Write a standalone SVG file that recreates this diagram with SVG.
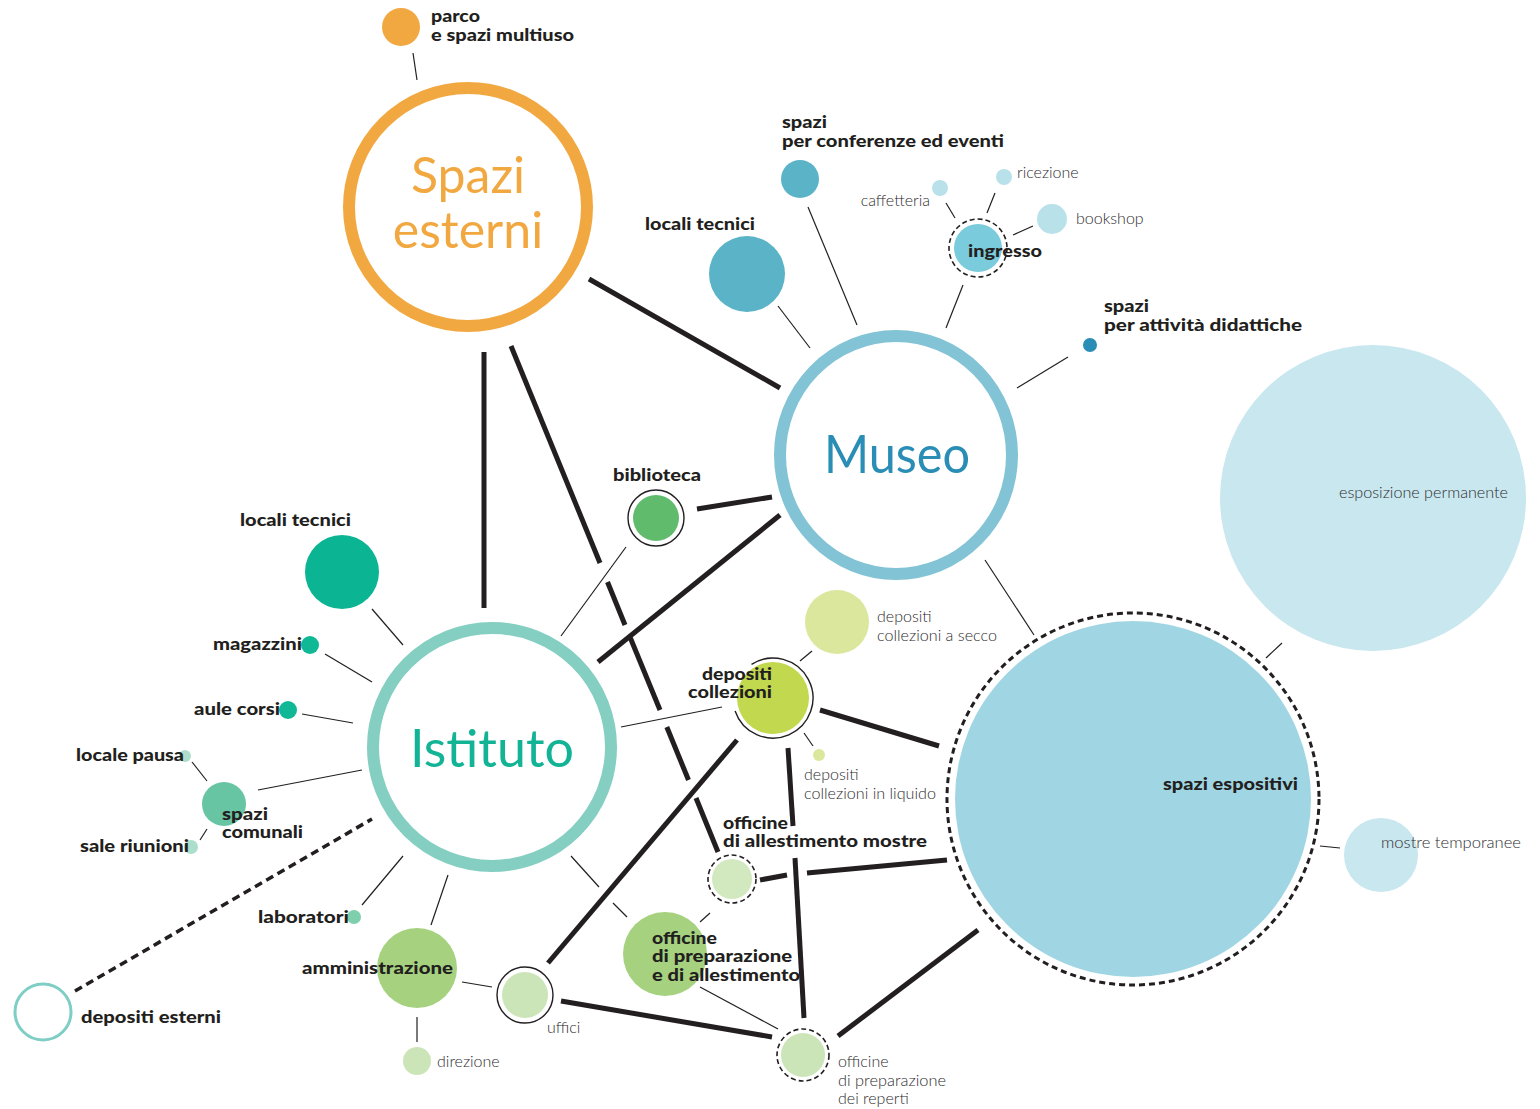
<svg xmlns="http://www.w3.org/2000/svg" width="1540" height="1109" viewBox="0 0 1540 1109">
<style>
.bg{fill:#fff}
.thick{stroke:#231f20;stroke-width:5;fill:none}
.thin{stroke:#231f20;stroke-width:1.2;fill:none}
.dring{fill:none;stroke:#231f20;stroke-width:1.6;stroke-dasharray:5 3}
.bring{fill:none;stroke:#231f20;stroke-width:1.4}
.b{font-family:Lato,"Liberation Sans",sans-serif;font-weight:900;font-size:16.5px;fill:#231f20}
.l{font-family:Lato,"Liberation Sans",sans-serif;font-weight:300;font-size:16px;fill:#2e2d2f}
.big{font-family:Lato,"Liberation Sans",sans-serif;font-weight:400;text-anchor:middle}
</style>
<rect class="bg" x="0" y="0" width="1540" height="1109"/>
<g id="connectors">
  <line class="thick" x1="589" y1="279" x2="780" y2="388"/>
  <line class="thick" x1="484" y1="352" x2="484" y2="608"/>
  <line class="thick" x1="511" y1="346" x2="600" y2="563"/>
  <line class="thick" x1="607.5" y1="582" x2="625" y2="625"/>
  <line class="thick" x1="630.4" y1="638" x2="660" y2="710"/>
  <line class="thick" x1="666.8" y1="727" x2="688.5" y2="780"/>
  <line class="thick" x1="696" y1="798" x2="718" y2="852"/>
  <line class="thick" x1="697" y1="509" x2="772" y2="497"/>
  <line class="thick" x1="598" y1="662" x2="780" y2="515"/>
  <line class="thick" x1="820" y1="710" x2="939" y2="746"/>
  <line class="thick" x1="737" y1="740" x2="548" y2="963"/>
  <line class="thick" x1="788" y1="748" x2="793" y2="826"/>
  <line class="thick" x1="795" y1="858" x2="804" y2="1018"/>
  <line class="thick" x1="760" y1="880" x2="787" y2="875"/>
  <line class="thick" x1="807" y1="873" x2="947" y2="860"/>
  <line class="thick" x1="561" y1="1001" x2="772" y2="1037"/>
  <line class="thick" x1="838" y1="1036" x2="978" y2="930"/>
  <line class="thin" x1="413" y1="53" x2="417" y2="80"/>
  <line class="thin" x1="778" y1="306" x2="810" y2="348"/>
  <line class="thin" x1="808" y1="207" x2="857" y2="325"/>
  <line class="thin" x1="963" y1="285" x2="946" y2="328"/>
  <line class="thin" x1="946" y1="203" x2="955" y2="218"/>
  <line class="thin" x1="995" y1="193" x2="987" y2="213"/>
  <line class="thin" x1="1033" y1="226" x2="1013" y2="235"/>
  <line class="thin" x1="1017" y1="388" x2="1068" y2="357"/>
  <line class="thin" x1="985" y1="560" x2="1034" y2="635"/>
  <line class="thin" x1="1266" y1="658" x2="1282" y2="643"/>
  <line class="thin" x1="1320" y1="846" x2="1340" y2="848"/>
  <line class="thin" x1="626" y1="547" x2="561" y2="636"/>
  <line class="thin" x1="372" y1="609" x2="403" y2="645"/>
  <line class="thin" x1="325" y1="654" x2="372" y2="682"/>
  <line class="thin" x1="302" y1="714" x2="353" y2="723"/>
  <line class="thin" x1="258" y1="790" x2="362" y2="770"/>
  <line class="thin" x1="192" y1="762" x2="207" y2="781"/>
  <line class="thin" x1="200" y1="840" x2="207" y2="829"/>
  <line class="thin" x1="362" y1="905" x2="403" y2="856"/>
  <line class="thin" x1="431" y1="925" x2="448" y2="875"/>
  <line class="thin" x1="417" y1="1017" x2="417" y2="1042"/>
  <line class="thin" x1="462" y1="982" x2="492" y2="987"/>
  <line class="thin" x1="571" y1="856" x2="599" y2="887"/>
  <line class="thin" x1="613" y1="903" x2="627" y2="917"/>
  <line class="thin" x1="700" y1="922" x2="710" y2="913"/>
  <line class="thin" x1="700" y1="987" x2="778" y2="1029"/>
  <line class="thin" x1="621" y1="727" x2="722" y2="707"/>
  <line class="thin" x1="800" y1="661" x2="812" y2="651"/>
  <line class="thin" x1="804" y1="733" x2="813" y2="746"/>
  <line x1="75" y1="991" x2="372" y2="819" stroke="#231f20" stroke-width="3.5" stroke-dasharray="8 5"/>
</g>
<g id="spazi-esterni">
  <circle cx="468" cy="207" r="119" fill="none" stroke="#f2a840" stroke-width="12"/>
  <text class="big" x="468" y="193" font-size="50" fill="#f2a840">Spazi</text>
  <text class="big" x="468" y="248" font-size="50" fill="#f2a840">esterni</text>
</g>
<g id="parco">
  <circle cx="401" cy="27" r="19" fill="#f2a840"/>
  <text class="b" x="431" y="22" textLength="49" lengthAdjust="spacingAndGlyphs">parco</text>
  <text class="b" x="431" y="41" textLength="143" lengthAdjust="spacingAndGlyphs">e spazi multiuso</text>
</g>
<g id="museo">
  <ellipse cx="896" cy="455" rx="116" ry="119" fill="#fff" stroke="#82c3d5" stroke-width="12"/>
  <text class="big" x="897" y="473" font-size="53" fill="#2a8db5" textLength="146" lengthAdjust="spacingAndGlyphs">Museo</text>
</g>
<g id="museo-locali-tecnici">
  <circle cx="747" cy="274" r="38" fill="#5ab3c7"/>
  <text class="b" x="645" y="230" textLength="110" lengthAdjust="spacingAndGlyphs">locali tecnici</text>
</g>
<g id="conferenze">
  <circle cx="800" cy="179" r="19" fill="#5ab3c7"/>
  <text class="b" x="782" y="128" textLength="45" lengthAdjust="spacingAndGlyphs">spazi</text>
  <text class="b" x="782" y="147" textLength="222" lengthAdjust="spacingAndGlyphs">per conferenze ed eventi</text>
</g>
<g id="ingresso">
  <circle cx="978" cy="248" r="24" fill="#7acbdc"/>
  <circle class="dring" cx="978" cy="248" r="29"/>
  <text class="b" x="968" y="257" textLength="74" lengthAdjust="spacingAndGlyphs">ingresso</text>
</g>
<g id="caffetteria">
  <circle cx="940" cy="188" r="8" fill="#b9e1ea"/>
  <text class="l" x="930" y="206" text-anchor="end">caffetteria</text>
</g>
<g id="ricezione">
  <circle cx="1004" cy="177" r="8" fill="#b9e1ea"/>
  <text class="l" x="1017" y="178">ricezione</text>
</g>
<g id="bookshop">
  <circle cx="1052" cy="219" r="15" fill="#b9e1ea"/>
  <text class="l" x="1076" y="224">bookshop</text>
</g>
<g id="didattiche">
  <circle cx="1090" cy="345" r="7" fill="#2a8db5"/>
  <text class="b" x="1104" y="312" textLength="45" lengthAdjust="spacingAndGlyphs">spazi</text>
  <text class="b" x="1104" y="331" textLength="198" lengthAdjust="spacingAndGlyphs">per attività didattiche</text>
</g>
<g id="esposizione-permanente">
  <circle cx="1373" cy="498" r="153" fill="#c8e7ef"/>
  <text class="l" x="1339" y="498" textLength="169" lengthAdjust="spacingAndGlyphs">esposizione permanente</text>
</g>
<g id="spazi-espositivi">
  <circle cx="1133" cy="799" r="178" fill="#a0d6e3"/>
  <circle cx="1133" cy="799" r="186" fill="none" stroke="#231f20" stroke-width="3" stroke-dasharray="6 4"/>
  <text class="b" x="1163" y="790" textLength="135" lengthAdjust="spacingAndGlyphs">spazi espositivi</text>
</g>
<g id="mostre-temporanee">
  <ellipse cx="1381" cy="855" rx="37" ry="37" fill="#c8e7ef"/>
  <text class="l" x="1381" y="848" textLength="140" lengthAdjust="spacingAndGlyphs">mostre temporanee</text>
</g>
<g id="biblioteca">
  <circle cx="656" cy="518" r="23" fill="#61bb6c"/>
  <circle class="bring" cx="656" cy="518" r="28"/>
  <text class="b" x="613" y="481" textLength="88" lengthAdjust="spacingAndGlyphs">biblioteca</text>
</g>
<g id="istituto">
  <circle cx="492" cy="747" r="119" fill="#fff" stroke="#84cfc2" stroke-width="12"/>
  <text class="big" x="492" y="767" font-size="52" fill="#12b495">Istituto</text>
</g>
<g id="istituto-locali-tecnici">
  <circle cx="342" cy="572" r="37" fill="#0bb594"/>
  <text class="b" x="240" y="526" textLength="111" lengthAdjust="spacingAndGlyphs">locali tecnici</text>
</g>
<g id="magazzini">
  <circle cx="310" cy="645" r="9" fill="#10b896"/>
  <text class="b" x="213" y="650" textLength="89" lengthAdjust="spacingAndGlyphs">magazzini</text>
</g>
<g id="aule-corsi">
  <circle cx="288" cy="710" r="9" fill="#10b896"/>
  <text class="b" x="194" y="715" textLength="86" lengthAdjust="spacingAndGlyphs">aule corsi</text>
</g>
<g id="spazi-comunali">
  <circle cx="224" cy="804" r="22" fill="#68c5a4"/>
  <text class="b" x="222" y="820" textLength="46" lengthAdjust="spacingAndGlyphs">spazi</text>
  <text class="b" x="222" y="838" textLength="81" lengthAdjust="spacingAndGlyphs">comunali</text>
</g>
<g id="locale-pausa">
  <circle cx="185" cy="756" r="6" fill="#acdecb"/>
  <text class="b" x="76" y="761" textLength="108" lengthAdjust="spacingAndGlyphs">locale pausa</text>
</g>
<g id="sale-riunioni">
  <circle cx="191" cy="847" r="7" fill="#acdecb"/>
  <text class="b" x="80" y="852" textLength="109" lengthAdjust="spacingAndGlyphs">sale riunioni</text>
</g>
<g id="laboratori">
  <circle cx="354" cy="917" r="7" fill="#7ecfab"/>
  <text class="b" x="258" y="923" textLength="91" lengthAdjust="spacingAndGlyphs">laboratori</text>
</g>
<g id="amministrazione">
  <circle cx="417" cy="968" r="40" fill="#a6d27f"/>
  <text class="b" x="302" y="974" textLength="151" lengthAdjust="spacingAndGlyphs">amministrazione</text>
</g>
<g id="direzione">
  <circle cx="417" cy="1061" r="14" fill="#cce5b8"/>
  <text class="l" x="437" y="1067">direzione</text>
</g>
<g id="uffici">
  <circle cx="525" cy="995" r="23" fill="#cce5b8"/>
  <circle class="bring" cx="525" cy="995" r="28"/>
  <text class="l" x="547" y="1033">uffici</text>
</g>
<g id="depositi-esterni">
  <circle cx="43" cy="1012" r="28" fill="none" stroke="#7ecec5" stroke-width="3"/>
  <text class="b" x="81" y="1023" textLength="140" lengthAdjust="spacingAndGlyphs">depositi esterni</text>
</g>
<g id="depositi-collezioni">
  <circle cx="773" cy="698" r="36" fill="#c2d84f"/>
  <path class="bring" d="M 751.5 664.3 A 40 40 0 1 1 735.1 710.9"/>
  <text class="b" x="702" y="680" textLength="70" lengthAdjust="spacingAndGlyphs">depositi</text>
  <text class="b" x="688" y="698" textLength="84" lengthAdjust="spacingAndGlyphs">collezioni</text>
</g>
<g id="depositi-secco">
  <circle cx="837" cy="622" r="32" fill="#dbe79c"/>
  <text class="l" x="877" y="622">depositi</text>
  <text class="l" x="877" y="641" textLength="120" lengthAdjust="spacingAndGlyphs">collezioni a secco</text>
</g>
<g id="depositi-liquido">
  <circle cx="819" cy="755" r="6" fill="#dbe79c"/>
  <text class="l" x="804" y="780">depositi</text>
  <text class="l" x="804" y="799" textLength="132" lengthAdjust="spacingAndGlyphs">collezioni in liquido</text>
</g>
<g id="officine-mostre">
  <circle cx="732" cy="879" r="20" fill="#d2e8bf"/>
  <circle class="dring" cx="732" cy="879" r="24"/>
  <text class="b" x="723" y="829" textLength="65" lengthAdjust="spacingAndGlyphs">officine</text>
  <text class="b" x="723" y="847" textLength="204" lengthAdjust="spacingAndGlyphs">di allestimento mostre</text>
</g>
<g id="officine-preparazione-allestimento">
  <circle cx="665" cy="954" r="42" fill="#a6d27f"/>
  <text class="b" x="652" y="944" textLength="65" lengthAdjust="spacingAndGlyphs">officine</text>
  <text class="b" x="652" y="962" textLength="140" lengthAdjust="spacingAndGlyphs">di preparazione</text>
  <text class="b" x="652" y="981" textLength="148" lengthAdjust="spacingAndGlyphs">e di allestimento</text>
</g>
<g id="officine-reperti">
  <circle cx="803" cy="1055" r="22" fill="#cce5b8"/>
  <circle class="dring" cx="803" cy="1055" r="26"/>
  <text class="l" x="838" y="1067">officine</text>
  <text class="l" x="838" y="1086" textLength="108" lengthAdjust="spacingAndGlyphs">di preparazione</text>
  <text class="l" x="838" y="1104">dei reperti</text>
</g>
</svg>
